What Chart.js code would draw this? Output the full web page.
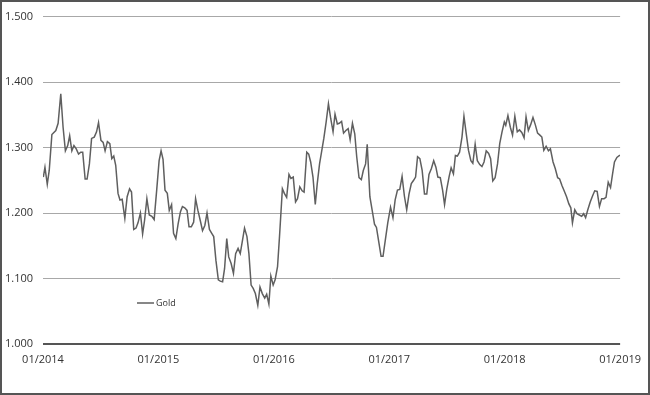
<!DOCTYPE html>
<html>
<head>
<meta charset="utf-8">
<script src="https://cdn.jsdelivr.net/npm/chart.js@4.4.1/dist/chart.umd.min.js"></script>
<style>
  body { margin: 0; background: #fff; }
  #wrap { position: relative; width: 650px; height: 395px; }
  #frame { position: absolute; left: 0; top: 0; width: 650px; height: 395px; box-sizing: border-box; border: 2px solid #555; pointer-events: none; }
</style>
</head>
<body>
<div id="wrap">
  <canvas id="goldChart" width="650" height="395"></canvas>
  <div id="frame"></div>
</div>
<script>
// years since 01/2014
const yearOffsets = [
  0.003, 0.017, 0.037, 0.054, 0.077, 0.111, 0.131, 0.154, 0.174, 0.194, 0.214, 0.231, 0.250, 0.268, 0.288, 0.308,
  0.327, 0.344, 0.365, 0.382, 0.402, 0.421, 0.444, 0.464, 0.481, 0.502, 0.521, 0.538, 0.558, 0.579, 0.596, 0.613,
  0.630, 0.650, 0.667, 0.686, 0.709, 0.729, 0.750, 0.767, 0.786, 0.806, 0.823, 0.844, 0.863, 0.880, 0.900, 0.921,
  0.943, 0.963, 0.985,
  1.006, 1.023, 1.040, 1.057, 1.077, 1.094, 1.114, 1.131, 1.151, 1.171, 1.191, 1.208, 1.228, 1.248, 1.265, 1.285,
  1.305, 1.322, 1.342, 1.362, 1.382, 1.402, 1.421, 1.442, 1.462, 1.479, 1.498, 1.519, 1.536, 1.556, 1.573, 1.592,
  1.609, 1.630, 1.650, 1.669, 1.690, 1.709, 1.729, 1.746, 1.767, 1.784, 1.803, 1.821, 1.840, 1.861, 1.880, 1.900,
  1.921, 1.938, 1.957, 1.974, 1.994,
  2.011, 2.032, 2.049, 2.074, 2.091, 2.111, 2.131, 2.148, 2.168, 2.188, 2.205, 2.225, 2.245, 2.262, 2.285, 2.302,
  2.319, 2.339, 2.359, 2.376, 2.396, 2.416, 2.433, 2.453, 2.473, 2.493, 2.513, 2.530, 2.550, 2.567, 2.587, 2.604,
  2.624, 2.644, 2.661, 2.681, 2.701, 2.718, 2.738, 2.758, 2.775, 2.795, 2.809, 2.832, 2.852, 2.872, 2.889, 2.909,
  2.929, 2.946, 2.966, 2.987,
  3.011, 3.032, 3.051, 3.071, 3.091, 3.111, 3.131, 3.151, 3.171, 3.191, 3.211, 3.228, 3.245, 3.265, 3.285, 3.305,
  3.325, 3.344, 3.365, 3.385, 3.404, 3.421, 3.442, 3.462, 3.479, 3.498, 3.519, 3.536, 3.556, 3.573, 3.590, 3.609,
  3.630, 3.647, 3.667, 3.686, 3.707, 3.724, 3.744, 3.763, 3.784, 3.803, 3.821, 3.840, 3.861, 3.878, 3.897, 3.917,
  3.938, 3.957, 3.977, 3.997,
  4.009, 4.028, 4.049, 4.068, 4.088, 4.109, 4.128, 4.148, 4.168, 4.185, 4.205, 4.225, 4.245, 4.265, 4.285, 4.305,
  4.322, 4.339, 4.359, 4.379, 4.396, 4.419, 4.438, 4.459, 4.476, 4.496, 4.515, 4.536, 4.556, 4.573, 4.587, 4.607,
  4.626, 4.647, 4.667, 4.684, 4.701, 4.720, 4.741, 4.761, 4.780, 4.801, 4.821, 4.840, 4.861, 4.878, 4.897, 4.917,
  4.934, 4.951, 4.972, 4.994, 5.000
];

// gold price, one value per offset above
const goldPrices = [
  1255, 1270, 1244, 1265, 1320, 1326, 1337, 1382, 1331, 1295, 1303, 1318, 1295, 1303, 1298, 1290,
  1293, 1293, 1252, 1252, 1275, 1314, 1316, 1324, 1338, 1311, 1308, 1295, 1309, 1306, 1283, 1287,
  1273, 1230, 1220, 1221, 1192, 1225, 1237, 1232, 1175, 1177, 1185, 1200, 1168, 1189, 1222, 1197,
  1195, 1190, 1235,
  1280, 1295, 1282, 1235, 1230, 1204, 1213, 1169, 1161, 1184, 1202, 1210, 1208, 1204, 1179, 1179,
  1186, 1222, 1204, 1189, 1173, 1181, 1200, 1175, 1169, 1164, 1128, 1098, 1096, 1095, 1115, 1161,
  1133, 1123, 1108, 1138, 1146, 1138, 1159, 1177, 1164, 1138, 1090, 1085, 1077, 1059, 1087, 1077,
  1070, 1076, 1061, 1104, 1090,
  1098, 1118, 1164, 1237, 1230, 1224, 1259, 1253, 1255, 1217, 1222, 1240, 1234, 1232, 1293, 1290,
  1278, 1255, 1213, 1245, 1275, 1296, 1314, 1339, 1367, 1344, 1324, 1351, 1336, 1337, 1340, 1322,
  1326, 1329, 1312, 1337, 1321, 1286, 1254, 1251, 1265, 1275, 1305, 1225, 1204, 1183, 1178, 1156,
  1134, 1134, 1159, 1185,
  1209, 1193, 1220, 1235, 1236, 1256, 1226, 1205, 1229, 1245, 1250, 1255, 1286, 1283, 1265, 1229,
  1229, 1259, 1268, 1280, 1270, 1255, 1254, 1235, 1213, 1236, 1256, 1269, 1260, 1288, 1287, 1293,
  1316, 1348, 1321, 1296, 1280, 1276, 1305, 1280, 1274, 1271, 1278, 1295, 1291, 1283, 1249, 1254,
  1275, 1306, 1324, 1339,
  1334, 1349, 1331, 1319, 1348, 1324, 1327, 1323, 1315, 1347, 1326, 1335, 1346, 1335, 1322, 1319,
  1316, 1296, 1302, 1295, 1298, 1278, 1268, 1254, 1252, 1242, 1234, 1225, 1214, 1208, 1185, 1205,
  1199, 1197, 1195, 1199, 1193, 1205, 1217, 1226, 1234, 1233, 1210, 1222, 1222, 1224, 1247, 1239,
  1259, 1278, 1285, 1288, 1288
];

const xTickLabels = ['01/2014', '01/2015', '01/2016', '01/2017', '01/2018', '01/2019'];
const yTickValues = [1000, 1100, 1200, 1300, 1400, 1500];
const seriesName = 'Gold';

const lineColor = '#5f5f5f';

// legend drawn inside the plot, lower left
const insideLegend = {
  id: 'insideLegend',
  afterDraw(chart) {
    const ctx = chart.ctx;
    const area = chart.chartArea;
    const x = area.left + 94;
    const y = area.bottom - 41;
    ctx.save();
    ctx.strokeStyle = lineColor;
    ctx.lineWidth = 1.5;
    ctx.beginPath();
    ctx.moveTo(x, y);
    ctx.lineTo(x + 17, y);
    ctx.stroke();
    ctx.fillStyle = '#333';
    ctx.font = '9px "Open Sans"';
    ctx.textBaseline = 'middle';
    ctx.fillText(chart.data.datasets[0].label, x + 19, y + 0.5);
    ctx.restore();
  }
};

function formatThousands(v) {
  return String(v).replace(/\B(?=(\d{3})+(?!\d))/g, '.');
}

const points = yearOffsets.map((t, i) => ({ x: t, y: goldPrices[i] }));

new Chart(document.getElementById('goldChart'), {
  type: 'line',
  data: {
    datasets: [{
      label: seriesName,
      data: points,
      borderColor: lineColor,
      borderWidth: 1.5,
      pointRadius: 0,
      tension: 0,
      fill: false
    }]
  },
  options: {
    responsive: false,
    animation: false,
    layout: { padding: { top: 16, right: 22, left: 0, bottom: 0 } },
    plugins: {
      legend: { display: false },
      tooltip: { enabled: false }
    },
    scales: {
      x: {
        type: 'linear',
        min: 0,
        max: xTickLabels.length - 1,
        afterBuildTicks: axis => {
          axis.ticks = xTickLabels.map((_, i) => ({ value: i }));
        },
        afterFit: axis => { axis.height = 51; },
        grid: { display: false, drawTicks: false },
        border: { display: false },
        ticks: {
          padding: 9,
          maxRotation: 0,
          color: '#333',
          font: { family: 'Open Sans', size: 11 },
          callback: (v, i) => xTickLabels[i]
        }
      },
      y: {
        min: yTickValues[0],
        max: yTickValues[yTickValues.length - 1],
        afterBuildTicks: axis => {
          axis.ticks = yTickValues.map(v => ({ value: v }));
        },
        afterFit: axis => { axis.width = 43; },
        border: { display: false },
        grid: {
          drawTicks: false,
          color: c => c.tick && c.tick.value === yTickValues[0] ? '#555' : '#a8a8a8',
          lineWidth: c => c.tick && c.tick.value === yTickValues[0] ? 2 : 1
        },
        ticks: {
          padding: 10,
          color: '#333',
          font: { family: 'Open Sans', size: 11 },
          callback: v => formatThousands(v)
        }
      }
    }
  },
  plugins: [insideLegend]
});
</script>
</body>
</html>
